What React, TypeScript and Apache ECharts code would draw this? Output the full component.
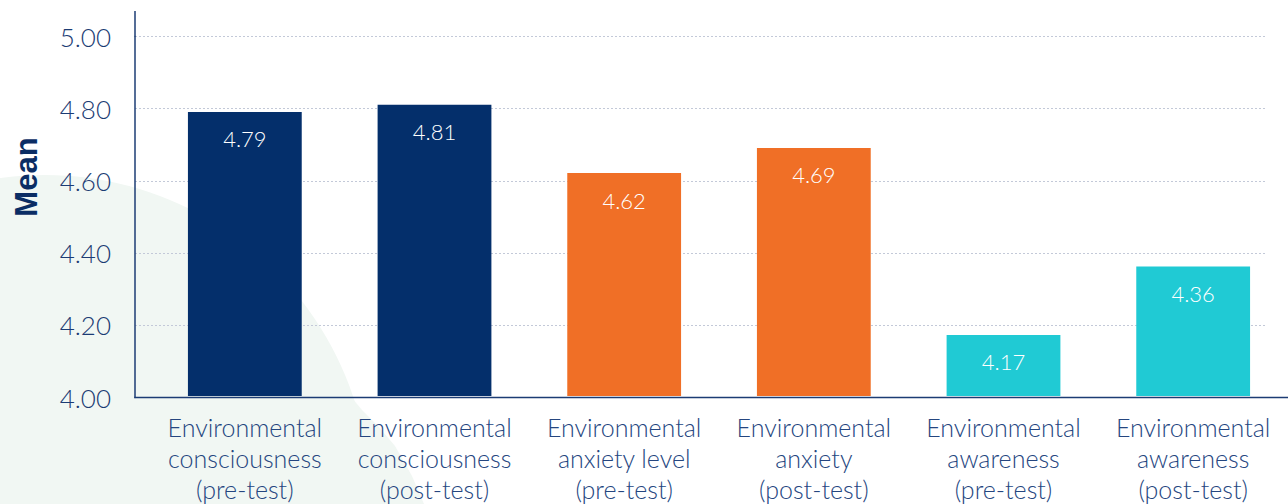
import React, { useEffect, useRef } from "react";
import * as echarts from "echarts";

// Mean scores per measure, pre- and post-test
const categories: string[] = [
  "Environmental\nconsciousness\n(pre-test)",
  "Environmental\nconsciousness\n(post-test)",
  "Environmental\nanxiety level\n(pre-test)",
  "Environmental\nanxiety\n(post-test)",
  "Environmental\nawareness\n(pre-test)",
  "Environmental\nawareness\n(post-test)",
];
const means: number[] = [4.79, 4.81, 4.62, 4.69, 4.17, 4.36];
const barColors: string[] = ["#042f6b", "#042f6b", "#f06f26", "#f06f26", "#20cad4", "#20cad4"];
const yTicks: number[] = [4.0, 4.2, 4.4, 4.6, 4.8, 5.0];

const NAVY = "#1c3c74";
const FONT = "Lato, 'Open Sans', sans-serif";
const BLOB = "#f1f7f3";

export default function App() {
  const ref = useRef<HTMLDivElement>(null);

  useEffect(() => {
    if (!ref.current) return;
    const chart = echarts.init(ref.current, undefined, { renderer: "svg" });
    const yMin = yTicks[0];
    const yMax = yTicks[yTicks.length - 1];
    const step = yTicks[1] - yTicks[0];

    chart.setOption({
      animation: false,
      backgroundColor: "#ffffff",
      textStyle: { fontFamily: FONT },
      grid: [
        // value grid: gridlines and the y axis
        { left: 135, right: 21, top: 36.5, bottom: 106.5, containLabel: false },
        // bars and category labels
        { left: 150, right: 0, top: 36.5, bottom: 106.5, containLabel: false },
      ],
      xAxis: [
        {
          gridIndex: 0,
          type: "category",
          data: categories,
          axisLine: { show: false },
          axisTick: { show: false },
          axisLabel: { show: false },
        },
        {
          gridIndex: 1,
          type: "category",
          data: categories,
          axisLine: { show: false },
          axisTick: { show: false },
          axisLabel: {
            color: "#25467f",
            fontSize: 25,
            fontFamily: FONT,
            fontWeight: 300,
            lineHeight: 31,
            margin: 15,
            interval: 0,
          },
        },
      ],
      yAxis: [
        {
          gridIndex: 0,
          type: "value",
          min: yMin,
          max: yMax,
          interval: step,
          axisLine: { show: true, lineStyle: { color: NAVY, width: 1.5 } },
          axisTick: { show: false },
          axisLabel: {
            color: "#1c3c74",
            fontSize: 26,
            fontFamily: FONT,
            fontWeight: 300,
            margin: 24,
            formatter: (v: number) => v.toFixed(2),
          },
          splitLine: {
            show: true,
            lineStyle: { color: "#c3c9d8", width: 1, type: [2, 2] },
          },
        },
        {
          gridIndex: 1,
          type: "value",
          min: yMin,
          max: yMax,
          interval: step,
          show: false,
          splitLine: { show: false },
        },
      ],
      series: [
        {
          type: "bar",
          xAxisIndex: 1,
          yAxisIndex: 1,
          barWidth: "60%",
          data: means.map((v, i) => ({ value: v, itemStyle: { color: barColors[i] } })),
          label: {
            show: true,
            position: "insideTop",
            distance: 16,
            color: "#ffffff",
            fontSize: 22,
            fontFamily: FONT,
            fontWeight: 300,
            formatter: (p: any) => Number(p.value).toFixed(2),
          },
        },
      ],
    });

    // baseline across both grids and the y axis running above the top tick,
    // placed from the value axis scale
    const baseY = chart.convertToPixel({ yAxisIndex: 0 }, yMin) as number;
    const topY = chart.convertToPixel({ yAxisIndex: 0 }, yMax) as number;
    const yAxisX = 135;

    chart.setOption({
      graphic: [
        {
          type: "circle",
          z: -10,
          silent: true,
          shape: { cx: 45, cy: 500, r: 325 },
          style: { fill: BLOB },
        },
        {
          type: "polygon",
          z: -10,
          silent: true,
          shape: {
            points: [
              [300, 400],
              [352, 398],
              [362, 410],
              [378, 426],
              [395, 446],
              [412, 476],
              [424, 504],
              [300, 504],
            ],
          },
          style: { fill: BLOB },
        },
        {
          type: "line",
          z: 50,
          silent: true,
          shape: { x1: yAxisX - 0.75, y1: baseY, x2: 1288, y2: baseY },
          style: { stroke: NAVY, lineWidth: 1.5 },
        },
        {
          type: "line",
          z: 50,
          silent: true,
          shape: { x1: yAxisX, y1: 11, x2: yAxisX, y2: topY },
          style: { stroke: NAVY, lineWidth: 1.5 },
        },
        {
          type: "text",
          x: 26,
          y: 177,
          rotation: Math.PI / 2,
          style: {
            text: "Mean",
            fill: "#0b2d64",
            font: "bold 31px 'Liberation Sans', Arial, sans-serif",
            align: "center",
            verticalAlign: "middle",
          },
        },
      ],
    });

    return () => chart.dispose();
  }, []);

  return (
    <div
      ref={ref}
      style={{ position: "fixed", left: 0, top: 0, width: 1288, height: 504 }}
    />
  );
}
